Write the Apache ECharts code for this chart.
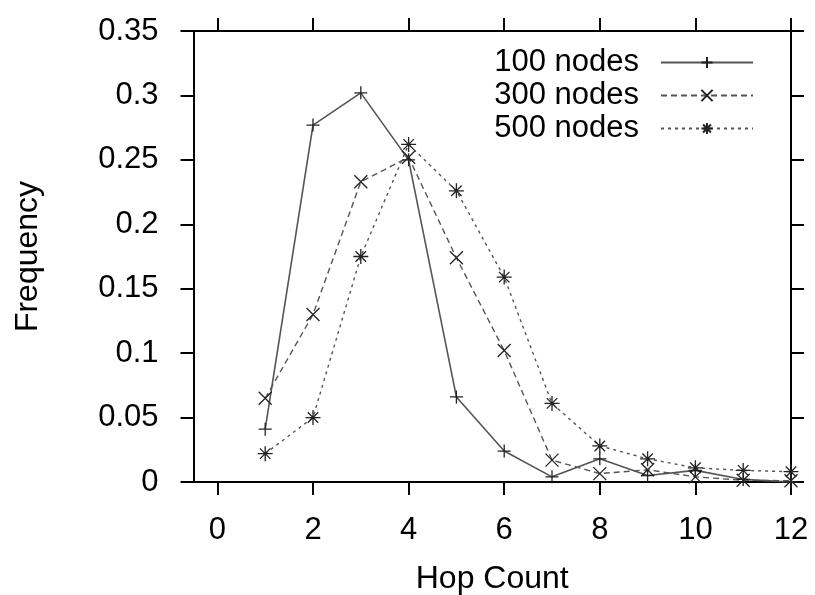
<!DOCTYPE html>
<html><head><meta charset="utf-8">
<script src="https://cdn.jsdelivr.net/npm/echarts@6/dist/echarts.min.js"></script>
<style>html,body{margin:0;padding:0;background:#fff}#c{width:815px;height:595px}</style>
</head><body><div id="c"></div>
<script>
const hops = [1,2,3,4,5,6,7,8,9,10,11,12];
const nodes100 = [0.041,0.277,0.302,0.250,0.066,0.024,0.004,0.018,0.005,0.009,0.002,0.000];
const nodes300 = [0.065,0.130,0.233,0.252,0.174,0.102,0.017,0.0065,0.0095,0.004,0.0013,0.001];
const nodes500 = [0.022,0.050,0.175,0.262,0.226,0.159,0.061,0.028,0.018,0.011,0.009,0.008];
const xTicks = [0,2,4,6,8,10,12];
const yTicks = [0,0.05,0.1,0.15,0.2,0.25,0.3,0.35];
const seriesNames = ['100 nodes','300 nodes','500 nodes'];

const FONT = 'Liberation Sans';
const sym = {
  plus: 'path://M0,6L12,6M6,0L6,12',
  cross: 'path://M0,0L12,12M12,0L0,12',
  star: 'path://M0,6L12,6M6,0L6,12M1.8,1.8L10.2,10.2M10.2,1.8L1.8,10.2'
};
function pairs(v){ return hops.map((h,i)=>[h,v[i]]); }
function mk(name, data, symbol, type, lw, size){
  return {
    name, type:'line', data: pairs(data), symbol, symbolSize: size,
    showAllSymbol: true, clip:false,
    lineStyle:{color:'#555', width: lw, type},
    itemStyle:{color:'none', borderColor:'#222', borderWidth:1.3},
    emphasis:{disabled:true}, animation:false
  };
}
function axisLine(){ return {show:true, onZero:false, lineStyle:{color:'#000', width:2}}; }
function tick(vals){ return {show:true, inside:false, length:13, customValues:vals, lineStyle:{color:'#000', width:2}}; }
const chart = echarts.init(document.getElementById('c'));
chart.setOption({
  animation:false,
  grid:{left:193.5, right:24, top:31, bottom:113, containLabel:false, outerBoundsMode:'none'},
  legend:{
    orient:'vertical', right:56, top:42, align:'right',
    itemWidth:92, itemHeight:14, itemGap:2,
    textStyle:{fontFamily:FONT, fontSize:31, lineHeight:30, color:'#000', padding:[0,17,0,0]},
    data: seriesNames
  },
  xAxis:[
    {
      type:'value', min:-0.5, max:12, position:'bottom',
      axisLine:axisLine(), axisTick:tick(xTicks), splitLine:{show:false},
      name:'Hop Count', nameLocation:'middle', nameGap:81,
      nameTextStyle:{fontFamily:FONT, fontSize:32, color:'#000'},
      axisLabel:{customValues:xTicks, margin:33, fontFamily:FONT, fontSize:31, color:'#000'}
    },
    {
      type:'value', min:-0.5, max:12, position:'top',
      axisLine:axisLine(), axisTick:tick(xTicks), splitLine:{show:false},
      axisLabel:{show:false, customValues:xTicks}
    }
  ],
  yAxis:[
    {
      type:'value', min:0, max:0.35, position:'left',
      axisLine:axisLine(), axisTick:tick(yTicks), splitLine:{show:false},
      name:'Frequency', nameLocation:'middle', nameGap:149,
      nameTextStyle:{fontFamily:FONT, fontSize:32, color:'#000'},
      axisLabel:{customValues:yTicks, margin:35, fontFamily:FONT, fontSize:31, color:'#000',
        formatter:v=>String(+(+v).toFixed(2))}
    },
    {
      type:'value', min:0, max:0.35, position:'right',
      axisLine:axisLine(), axisTick:tick(yTicks), splitLine:{show:false},
      axisLabel:{show:false, customValues:yTicks}
    }
  ],
  series:[
    mk(seriesNames[0], nodes100, sym.plus, 'solid', 1.6, 13),
    mk(seriesNames[1], nodes300, sym.cross, [6,4], 1.4, 13),
    mk(seriesNames[2], nodes500, sym.star, [3,4], 1.4, 15)
  ]
});
</script></body></html>
